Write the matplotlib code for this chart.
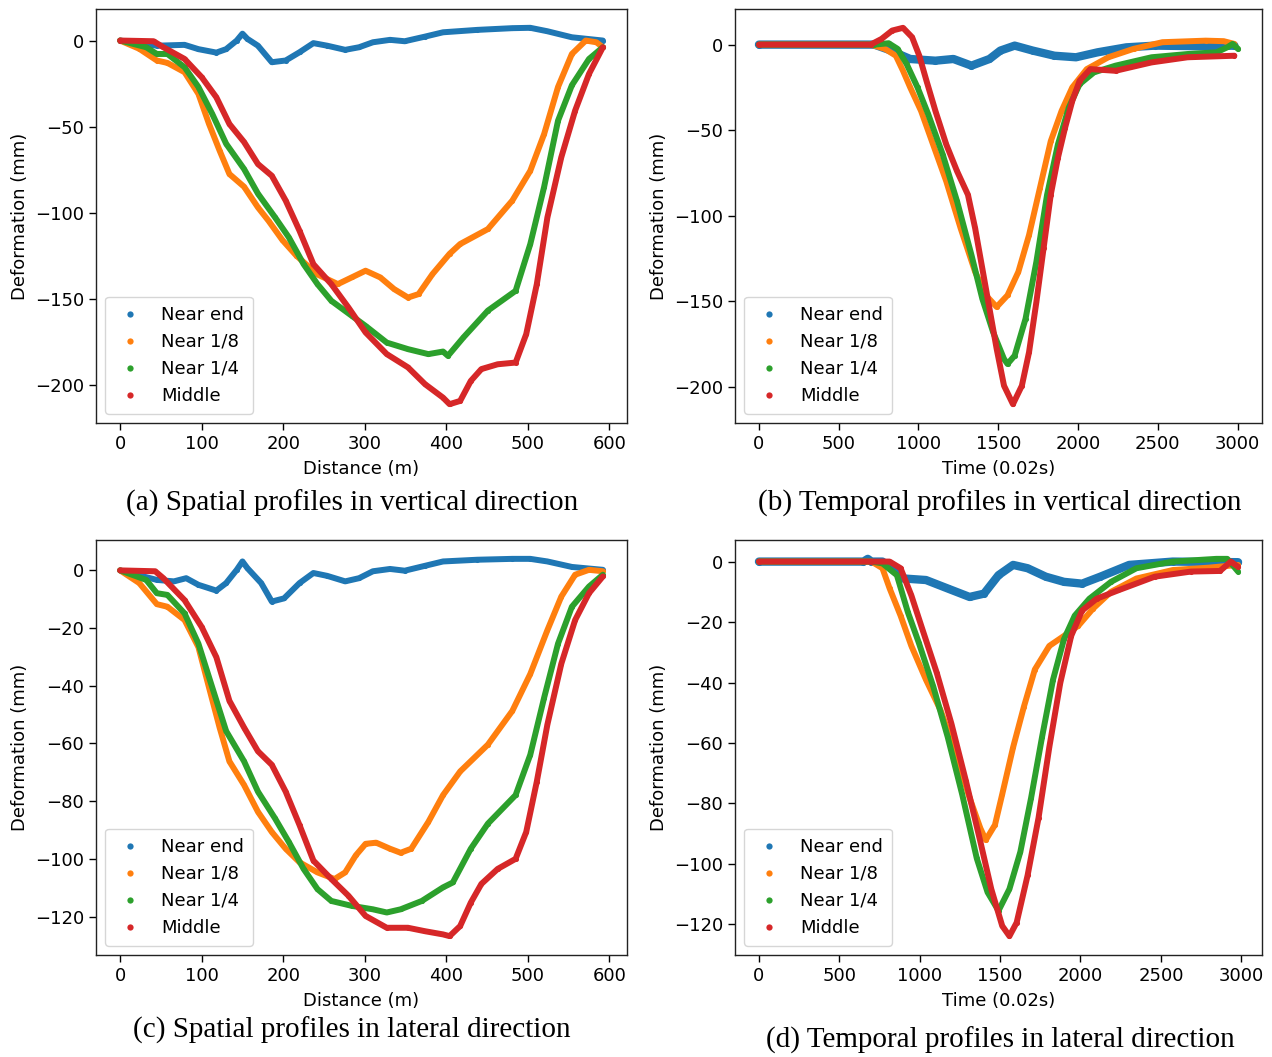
import matplotlib
matplotlib.use("Agg")
import matplotlib.pyplot as plt
from matplotlib.lines import Line2D

# ---------------- data ----------------
series_names = ["Near end", "Near 1/8", "Near 1/4", "Middle"]
series_colors = ["#1f77b4", "#ff7f0e", "#2ca02c", "#d62728"]

# (a) spatial profiles, vertical direction  -- distance (m) / deformation (mm)
a_end_x = [0, 45, 79, 96, 118, 130, 143, 150, 156, 169, 186, 203, 220, 237, 254, 276, 293, 310, 331, 349, 374, 396, 438, 481, 503, 524, 554, 592]
a_end_y = [0, -3, -2.5, -5, -7, -5, 0, 4, 1, -3, -12.6, -11.6, -6.8, -1.5, -3, -5.4, -3.9, -1, 0.4, -0.4, 2.3, 4.8, 6.2, 7.2, 7.4, 5.4, 1.9, 0]
a_q8_x = [0, 23.5, 45, 58, 79, 96, 109, 122, 134, 152, 169, 182, 199, 216, 242, 267, 284, 301, 319, 336, 353, 366, 383, 404, 417, 451, 481, 503, 520, 537, 554, 571, 584, 592]
a_q8_y = [0, -4.8, -11.6, -13, -18.4, -31, -48.5, -64, -77.6, -85, -97, -104.8, -116, -125, -136, -141.6, -137.7, -133.8, -137.7, -144.5, -149.4, -147.4, -135.8, -124, -118.3, -109.6, -93, -75.7, -54.3, -27, -7.8, 0, -1, -3.9]
a_q4_x = [0, 32, 45, 58, 79, 96, 113, 130, 152, 169, 190, 207, 225, 242, 259, 284, 301, 327, 353, 378, 396, 402, 421, 451, 485, 503, 520, 537, 554, 575, 592]
a_q4_y = [0, -3.9, -7.8, -7.8, -15.5, -27, -42.7, -60, -74.7, -89, -102.8, -114.5, -130, -141.6, -151.3, -160, -165.9, -175.6, -179.4, -182.3, -180.8, -183.3, -172.6, -157, -145.5, -118.3, -85, -46.6, -26, -10.7, -3.9]
a_mid_x = [0, 41, 53, 79, 100, 118, 134, 152, 169, 186, 203, 220, 237, 259, 280, 301, 327, 353, 374, 396, 404, 417, 430, 443, 463, 485, 498, 511, 524, 541, 558, 575, 592]
a_mid_y = [0, -0.4, -3.9, -10.7, -21.3, -33, -48.5, -59, -71.8, -78.6, -93, -110.6, -130, -141.6, -155.2, -169.7, -182.3, -190, -199.8, -207.6, -211.4, -209.5, -197.9, -191, -188.2, -187.2, -170.7, -141.6, -102.8, -67.9, -40.7, -19.4, -3.9]

# (b) temporal profiles, vertical direction  -- time (0.02 s) / deformation (mm)
b_end_x = [0, 723, 813, 948, 1106, 1219, 1332, 1445, 1513, 1603, 1716, 1852, 1987, 2123, 2303, 2484, 2800, 2980]
b_end_y = [0, 0, -3, -8.4, -9.4, -8.4, -12.3, -8.4, -3.5, -0.6, -3.5, -6.5, -7.4, -4.5, -1.6, -0.6, -1, -0.6]
b_q8_x = [0, 700, 790, 858, 903, 948, 1016, 1084, 1174, 1264, 1355, 1422, 1490, 1558, 1626, 1693, 1761, 1829, 1897, 1964, 2055, 2190, 2348, 2529, 2800, 2913, 2980]
b_q8_y = [0, 0, -2.5, -6.5, -15.3, -25, -38.7, -56.4, -79.8, -107.2, -132.7, -146.4, -153.2, -146.4, -132.7, -111.2, -83.8, -56.4, -38.7, -25, -14.3, -7.4, -2.5, 1.4, 2.3, 2, 0.4]
b_q4_x = [0, 723, 813, 869, 926, 994, 1061, 1152, 1242, 1332, 1400, 1468, 1536, 1558, 1603, 1671, 1739, 1806, 1874, 1942, 2010, 2100, 2235, 2461, 2687, 2868, 2935, 2969, 3003]
b_q4_y = [0, 0, 0.8, -2.5, -11.4, -25, -40.7, -64.2, -91.6, -122.9, -148.4, -168, -183.6, -186.5, -181.6, -160.1, -126.8, -87.7, -58.3, -36.8, -23.1, -16.2, -12.3, -7.4, -5.5, -4.5, -1.6, 0.4, -2.5]
b_mid_x = [0, 700, 768, 835, 903, 960, 1005, 1050, 1106, 1174, 1242, 1310, 1355, 1400, 1445, 1490, 1536, 1592, 1648, 1693, 1739, 1784, 1829, 1874, 1919, 1964, 2010, 2077, 2235, 2461, 2687, 2980]
b_mid_y = [0, 0, 3.3, 8.2, 9.8, 4.3, -6.5, -21.1, -38.7, -58.3, -74, -87.7, -107.2, -130.7, -154.2, -177.7, -199.2, -210, -199.2, -179.6, -150.3, -119, -87.7, -66.1, -48.5, -32.9, -21.1, -14.3, -15.3, -10.4, -7.4, -6.5]

# (c) spatial profiles, lateral direction
c_end_x = [0, 45, 66, 81, 96, 118, 130, 143, 150, 156, 173, 186, 201, 220, 237, 254, 276, 293, 310, 331, 349, 374, 396, 438, 481, 503, 524, 554, 592]
c_end_y = [0, -3.3, -3.8, -2.7, -5, -7, -4.4, 0.2, 3.1, 0.8, -4.4, -10.8, -9.7, -4.4, -0.9, -1.9, -3.8, -2.7, -0.3, 0.5, -0.1, 1.6, 3.1, 3.7, 4.0, 4.0, 3.1, 1.2, 0.2]
c_q8_x = [0, 23.5, 45, 58, 79, 96, 109, 122, 134, 152, 169, 186, 203, 220, 242, 263, 276, 289, 301, 314, 331, 344, 357, 378, 396, 417, 451, 481, 503, 524, 541, 558, 575, 592]
c_q8_y = [0, -4.4, -11.7, -12.6, -17.2, -26.6, -40.6, -54.5, -66.2, -74.4, -83.7, -90.7, -96.5, -101.2, -104.7, -107, -104.7, -98.8, -94.8, -94.4, -96.5, -97.9, -96.5, -87.2, -77.9, -69.7, -60.4, -48.7, -35.9, -20.7, -9.1, -1.5, 0.2, -0.3]
c_q4_x = [0, 32, 45, 58, 79, 96, 113, 130, 152, 169, 190, 207, 225, 242, 259, 284, 310, 327, 344, 370, 396, 408, 430, 451, 485, 503, 520, 537, 554, 575, 592]
c_q4_y = [0, -3.3, -7.9, -8.5, -14.9, -25.4, -40.6, -55.7, -66.2, -76.7, -86, -94.2, -103.5, -110.5, -114.6, -116.3, -117.5, -118.6, -117.5, -114.6, -109.9, -108.2, -96.5, -87.8, -77.9, -63.9, -44.1, -25.4, -12.6, -5.6, -1.5]
c_mid_x = [0, 43, 53, 79, 100, 118, 134, 152, 169, 186, 203, 220, 237, 259, 280, 301, 327, 353, 374, 396, 404, 417, 430, 443, 463, 485, 498, 511, 524, 541, 558, 575, 592]
c_mid_y = [0, -0.3, -2.7, -10.3, -19.6, -30.1, -45.2, -54.5, -62.7, -67.4, -76.7, -88.3, -100.6, -107, -112.8, -119.8, -123.9, -123.9, -125.1, -126.2, -126.8, -123.3, -115.2, -108.7, -103.5, -100, -90.7, -73.2, -53.4, -32.4, -17.2, -7.9, -2.1]

# (d) temporal profiles, lateral direction
d_end_x = [0, 650, 677, 700, 768, 903, 1039, 1174, 1310, 1400, 1490, 1581, 1671, 1784, 1897, 2010, 2123, 2303, 2574, 2980]
d_end_y = [0, 0, 0.9, 0, 0, -5.6, -6.1, -8.9, -11.7, -10.6, -4.5, -1.1, -2.2, -5, -6.7, -7.3, -5, -1.1, 0, -0.2]
d_q8_x = [0, 700, 768, 813, 881, 948, 1039, 1129, 1219, 1310, 1377, 1411, 1468, 1513, 1581, 1648, 1716, 1806, 1897, 1987, 2077, 2190, 2348, 2574, 2800, 2980]
d_q8_y = [0, 0, -2.2, -8.9, -17.9, -27.9, -39.1, -49.1, -62.5, -78.1, -88.2, -92.1, -87.1, -77, -61.4, -48, -35.7, -27.9, -24.6, -21.2, -15.6, -10, -5.6, -2.8, -2, -1.1]
d_q4_x = [0, 700, 768, 858, 926, 994, 1084, 1174, 1264, 1355, 1422, 1490, 1558, 1626, 1693, 1761, 1829, 1897, 1964, 2055, 2190, 2348, 2574, 2845, 2913, 2980]
d_q4_y = [0, 0, -0.6, -4.5, -16.7, -26.8, -41.3, -58, -77, -98.2, -109.4, -115.5, -108.3, -96, -78.1, -58, -39.1, -25.7, -17.9, -12.3, -6.7, -2.2, 0, 0.9, 0.9, -3.3]
d_mid_x = [0, 700, 813, 881, 948, 1016, 1106, 1197, 1287, 1377, 1445, 1513, 1558, 1603, 1671, 1739, 1806, 1874, 1942, 2010, 2100, 2235, 2461, 2687, 2868, 2935, 2980]
d_mid_y = [0, 0, 0, -2.2, -11.2, -22.3, -36.8, -53.6, -72.5, -92.6, -108.3, -120.5, -123.9, -119.4, -103.8, -84.8, -61.4, -40.2, -24.6, -16.2, -12.3, -9.5, -5, -3.3, -3.1, 0, -1.7]

panels = [
    ("(a) Spatial profiles in vertical direction", "Distance (m)", [0, 100, 200, 300, 400, 500, 600],
     [0, -50, -100, -150, -200],
     [(a_end_x, a_end_y), (a_q8_x, a_q8_y), (a_q4_x, a_q4_y), (a_mid_x, a_mid_y)]),
    ("(b) Temporal profiles in vertical direction", "Time (0.02s)", [0, 500, 1000, 1500, 2000, 2500, 3000],
     [0, -50, -100, -150, -200],
     [(b_end_x, b_end_y), (b_q8_x, b_q8_y), (b_q4_x, b_q4_y), (b_mid_x, b_mid_y)]),
    ("(c) Spatial profiles in lateral direction", "Distance (m)", [0, 100, 200, 300, 400, 500, 600],
     [0, -20, -40, -60, -80, -100, -120],
     [(c_end_x, c_end_y), (c_q8_x, c_q8_y), (c_q4_x, c_q4_y), (c_mid_x, c_mid_y)]),
    ("(d) Temporal profiles in lateral direction", "Time (0.02s)", [0, 500, 1000, 1500, 2000, 2500, 3000],
     [0, -20, -40, -60, -80, -100, -120],
     [(d_end_x, d_end_y), (d_q8_x, d_q8_y), (d_q4_x, d_q4_y), (d_mid_x, d_mid_y)]),
]

# ---------------- figure ----------------
plt.rcParams["font.family"] = ["DejaVu Sans"]
fig = plt.figure(figsize=(12.72, 10.57), dpi=100)

W, H = 1272.0, 1057.0
boxes = [(96, 9, 627, 423), (735, 9, 1262, 423), (96, 540, 627, 955), (735, 540, 1262, 955)]
captions_xy = [(352, 503), (1000, 503), (352, 1030), (1000, 1040)]

for idx, (caption, xlabel, xt, yt, data) in enumerate(panels):
    x0, y0, x1, y1 = boxes[idx]
    ax = fig.add_axes([x0 / W, 1 - y1 / H, (x1 - x0) / W, (y1 - y0) / H])
    temporal = idx in (1, 3)
    for k, ((xs, ys), name, col) in enumerate(zip(data, series_names, series_colors)):
        lw = 4.3
        if temporal and k == 0:
            lw = 6.0
        ax.plot(xs, ys, color=col, lw=lw, solid_capstyle="round", solid_joinstyle="round",
                marker="o", ms=lw * 0.85, mew=0, zorder=2 + k)
    ax.set_xticks(xt)
    ax.set_yticks(yt)
    ax.set_yticklabels([("\u2212" + str(abs(v))) if v < 0 else str(v) for v in yt])
    ax.tick_params(labelsize=13, length=5, width=1)
    ax.set_xlabel(xlabel, fontsize=13, labelpad=5)
    ax.set_ylabel("Deformation (mm)", fontsize=13)
    for s in ax.spines.values():
        s.set_linewidth(1.0)
        s.set_color("#222222")
    handles = [Line2D([], [], ls="", marker="o", ms=4.5, mew=0, color=c) for c in series_colors]
    ax.legend(handles, series_names, loc="lower left", fontsize=13, framealpha=0.8,
              edgecolor="#cccccc", handletextpad=0.8, handlelength=1.8, borderpad=0.5)
    cx, cy = captions_xy[idx]
    fig.text(cx / W, 1 - cy / H, caption, ha="center", va="center",
             family=["Liberation Serif", "DejaVu Serif"], fontsize=21)

fig.savefig("out.png", dpi=100)
